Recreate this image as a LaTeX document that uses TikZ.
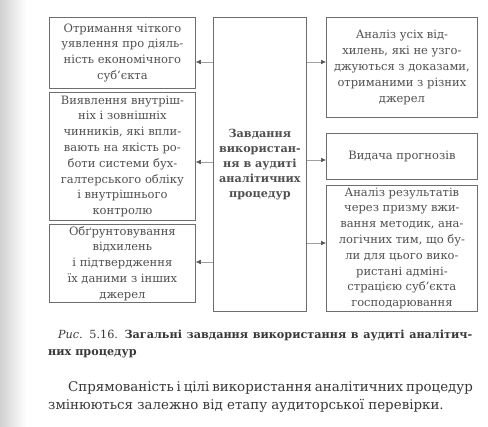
\documentclass[tikz,border=0pt]{standalone}
\usepackage{fontspec}
\setmainfont{DejaVu Serif}
\usetikzlibrary{arrows.meta}
\definecolor{txt}{HTML}{505050}
\definecolor{capt}{HTML}{383838}
\definecolor{frame}{HTML}{6E6E6E}
\definecolor{conn}{HTML}{A0A0A0}
\tikzset{
  box/.style={draw=frame, line width=0.8pt, text=txt, align=center, inner sep=0pt, anchor=north west},
  conn/.style={draw=conn, line width=0.5pt, -{Latex[length=5pt,width=4.5pt,color=txt]}},
  plain/.style={text=capt, inner sep=0pt, anchor=base west}
}
\begin{document}
\begin{tikzpicture}[x=1pt,y=-1pt,font=\fontsize{11.5}{15.8}\selectfont]
\useasboundingbox (0,0) rectangle (488,427);
\fill[white] (0,0) rectangle (488,427);
\shade[left color=black!18, right color=white] (0,0) rectangle (26,427);
% left boxes
\node[box, minimum width=146pt, minimum height=71pt] (L1) at (49,17)
 {Отримання чіткого\\уявлення про діяль-\\ність економічного\\суб’єкта};
\node[box, minimum width=146pt, minimum height=128pt] (L2) at (49,92)
 {Виявлення внутріш-\\ніх і зовнішніх\\чинників, які впли-\\вають на якість ро-\\боти системи бух-\\галтерського обліку\\і внутрішнього\\контролю};
\node[box, minimum width=146pt, minimum height=78pt] (L3) at (49,224)
 {Обґрунтовування\\відхилень\\і підтвердження\\їх даними з інших\\джерел};
% centre
\node[box, minimum width=93pt, minimum height=294pt, font=\fontsize{11.2}{15}\selectfont\bfseries] (C) at (213,17)
 {Завдання\\використан-\\ня в аудиті\\аналітичних\\процедур};
% right boxes
\node[box, minimum width=151pt, minimum height=100pt] (R1) at (326,17)
 {Аналіз усіх від-\\хилень, які не узго-\\джуються з доказами,\\отриманими з різних\\джерел};
\node[box, minimum width=151pt, minimum height=46pt] (R2) at (326,133)
 {Видача прогнозів};
\node[box, minimum width=151pt, minimum height=126pt] (R3) at (326,185)
 {Аналіз результатів\\через призму вжи-\\вання методик, ана-\\логічних тим, що бу-\\ли для цього вико-\\ристані адміні-\\страцією суб’єкта\\господарювання};
% connector levels
\coordinate (y1) at (0,62);
\coordinate (y2) at (0,162);
\coordinate (y3) at (0,262);
\coordinate (z1) at (0,62);
\coordinate (z2) at (0,160);
\coordinate (z3) at (0,243);
\draw[conn] (C.west |- y1) -- (L1.east |- y1);
\draw[conn] (C.west |- y2) -- (L2.east |- y2);
\draw[conn] (C.west |- y3) -- (L3.east |- y3);
\draw[conn] (C.east |- z1) -- (R1.west |- z1);
\draw[conn] (C.east |- z2) -- (R2.west |- z2);
\draw[conn] (C.east |- z3) -- (R3.west |- z3);
% caption
\node[plain, font=\fontsize{11.2}{15}\selectfont] (cap1) at (58,339) {\makebox[414pt][s]{\textit{Рис.} 5.16. \textbf{Загальні завдання використання в аудиті аналітич-}}};
\node[plain, font=\fontsize{11.2}{15}\selectfont] (cap2) at (48,356) {\textbf{них процедур}};
% paragraph
\node[plain, font=\fontsize{13.4}{17}\selectfont] (par1) at (68,392) {\makebox[402pt][s]{Спрямованість і цілі використання аналітичних процедур}};
\node[plain, font=\fontsize{13.4}{17}\selectfont] (par2) at (48,410) {змінюються залежно від етапу аудиторської перевірки.};
\end{tikzpicture}
\end{document}
